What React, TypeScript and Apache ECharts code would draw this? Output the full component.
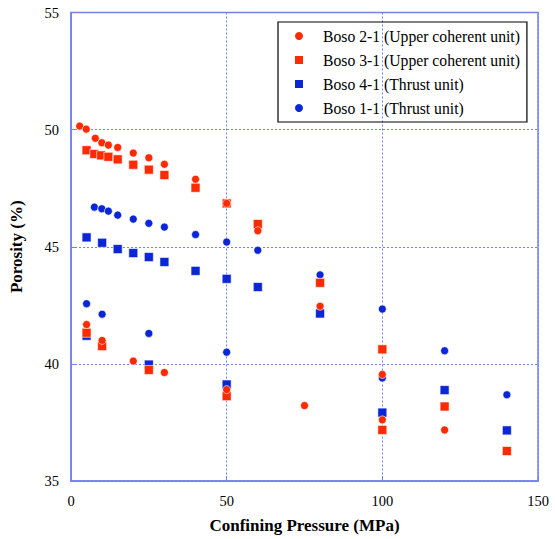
import React, { useEffect, useRef } from "react";
import * as echarts from "echarts";

const seriesNames = [
  "Boso 2-1 (Upper coherent unit)",
  "Boso 3-1 (Upper coherent unit)",
  "Boso 4-1 (Thrust unit)",
  "Boso 1-1 (Thrust unit)",
];

// Boso 2-1 (red circles)
const boso21Pressure = [2.8, 4.9, 7.8, 9.9, 12, 15, 20, 25, 30, 40, 50, 60, 80, 100, 100, 120, 5, 10, 20, 30, 50, 75];
const boso21Porosity = [50.15, 50.02, 49.63, 49.44, 49.34, 49.24, 49.0, 48.8, 48.52, 47.88, 46.85, 45.68, 42.46, 39.55, 37.61, 37.18, 41.68, 41.0, 40.12, 39.63, 38.9, 38.22];

// Boso 3-1 (red squares)
const boso31Pressure = [5, 7.5, 9.7, 12, 15, 20, 25, 30, 40, 50, 60, 80, 100, 100, 120, 140, 5, 10, 25, 50];
const boso31Porosity = [49.12, 48.96, 48.9, 48.84, 48.73, 48.5, 48.29, 48.06, 47.52, 46.85, 45.97, 43.46, 40.62, 37.18, 38.18, 36.28, 41.33, 40.76, 39.74, 38.62];

// Boso 4-1 (blue squares)
const boso41Pressure = [5, 10, 15, 20, 25, 30, 40, 50, 60, 80, 100, 120, 140, 5, 25, 50];
const boso41Porosity = [45.4, 45.17, 44.9, 44.73, 44.56, 44.35, 43.97, 43.63, 43.28, 42.15, 37.92, 38.88, 37.16, 41.2, 39.97, 39.12];

// Boso 1-1 (blue circles)
const boso11Pressure = [7.5, 9.9, 12, 15, 20, 25, 30, 40, 50, 60, 80, 100, 120, 140, 5, 10, 25, 50, 100];
const boso11Porosity = [46.69, 46.62, 46.52, 46.35, 46.18, 46.0, 45.84, 45.52, 45.2, 44.85, 43.8, 42.34, 40.56, 38.68, 42.57, 42.12, 41.3, 40.5, 39.4];

const xTicks = [0, 50, 100, 150];
const yTicks = [35, 40, 45, 50, 55];

const RED = "#ff2a00";
const BLUE = "#0a26d6";
const AXIS = "#7282ea";
const FONT = "Liberation Serif";

const zip = (xs: number[], ys: number[]) => xs.map((x, i) => [x, ys[i]]);

export default function App() {
  const ref = useRef<HTMLDivElement>(null);
  useEffect(() => {
    if (!ref.current) return;
    const chart = echarts.init(ref.current, null, { renderer: "svg" });
    const mk = (name: string, data: number[][], symbol: string, size: number, color: string) => ({
      name,
      type: "scatter",
      data,
      symbol,
      symbolSize: size,
      itemStyle: { color, borderColor: "#ffffff", borderWidth: 0.6, opacity: 1 },
      emphasis: { disabled: true },
    });
    const label = { fontFamily: FONT, fontSize: 14.5, color: "#000", margin: 12 };
    const nameStyle = { fontFamily: FONT, fontSize: 17, fontWeight: "bold", color: "#000" };
    chart.setOption({
      animation: false,
      backgroundColor: "#ffffff",
      textStyle: { fontFamily: FONT },
      grid: {
        left: 68,
        top: 12.5,
        right: 17,
        bottom: 56.5,
        show: true,
        borderColor: AXIS,
        borderWidth: 1.5,
        backgroundColor: "transparent",
      },
      legend: {
        data: seriesNames,
        orient: "vertical",
        left: 278,
        top: 22,
        padding: [6, 7, 6, 15],
        itemGap: 8,
        itemWidth: 10,
        itemHeight: 10,
        borderColor: "#000000",
        borderWidth: 1.2,
        textStyle: { fontFamily: FONT, fontSize: 15.7, color: "#000", padding: [0, 0, 0, 14] },
        selectedMode: false,
      },
      xAxis: {
        type: "value",
        min: xTicks[0],
        max: xTicks[xTicks.length - 1],
        interval: 50,
        name: "Confining Pressure (MPa)",
        nameLocation: "middle",
        nameGap: 36,
        nameTextStyle: nameStyle,
        axisLine: { show: true, lineStyle: { color: AXIS, width: 1.5 } },
        axisTick: { show: true, inside: true, length: 5, lineStyle: { color: AXIS } },
        axisLabel: label,
        splitLine: { show: true, lineStyle: { color: AXIS, type: [2, 2], width: 1 } },
      },
      yAxis: {
        type: "value",
        min: yTicks[0],
        max: yTicks[yTicks.length - 1],
        interval: 5,
        name: "Porosity (%)",
        nameLocation: "middle",
        nameGap: 46,
        nameTextStyle: nameStyle,
        axisLine: { show: true, lineStyle: { color: AXIS, width: 1.5 } },
        axisTick: { show: true, inside: true, length: 5, lineStyle: { color: AXIS } },
        axisLabel: label,
        splitLine: { show: true, lineStyle: { color: AXIS, type: [2, 2], width: 1 } },
      },
      series: [
        mk(seriesNames[3], zip(boso11Pressure, boso11Porosity), "circle", 8, BLUE),
        mk(seriesNames[2], zip(boso41Pressure, boso41Porosity), "rect", 9, BLUE),
        mk(seriesNames[1], zip(boso31Pressure, boso31Porosity), "rect", 9, RED),
        mk(seriesNames[0], zip(boso21Pressure, boso21Porosity), "circle", 8, RED),
      ],
    });
    return () => chart.dispose();
  }, []);
  return (
    <div
      ref={ref}
      style={{ position: "absolute", left: 0, top: 0, width: 555, height: 539 }}
    />
  );
}
